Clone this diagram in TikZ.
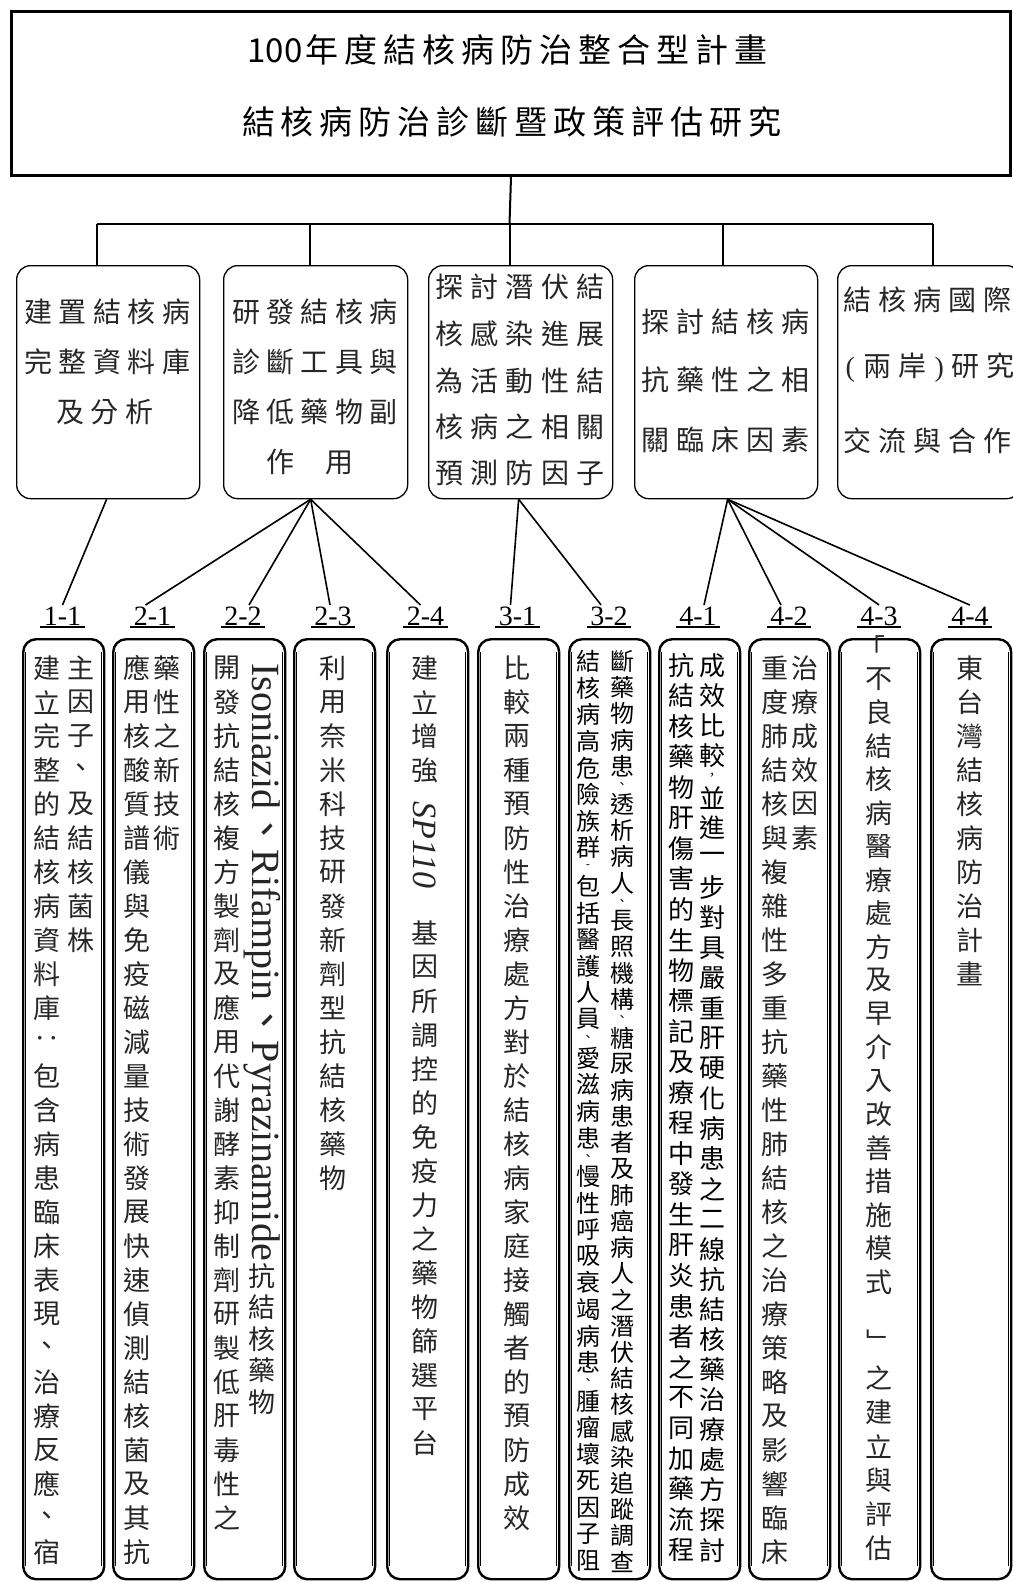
\documentclass[tikz,border=0pt]{standalone}
\usepackage{fontspec}
\usepackage{graphicx}
\setmainfont{Liberation Serif}
\newfontfamily\cjk{Noto Sans CJK TC}
\ExplSyntaxOn
\dim_new:N \l__rk_p_dim
\dim_new:N \l__rk_q_dim
\bool_new:N \l__rk_small_bool
\cs_new_protected:Npn \__rk_cell:nn #1#2
  { \hbox_to_wd:nn {1.1em} { \hss \vbox_to_ht:nn {#1} { \vss \hbox:n {#2} \vss } \hss } }
\NewDocumentCommand \vcol { O{34pt} o m }
  {
    \dim_set:Nn \l__rk_p_dim {#1}
    \IfNoValueTF {#2}
      { \bool_set_false:N \l__rk_small_bool \dim_set:Nn \l__rk_q_dim {#1} }
      { \bool_set_true:N \l__rk_small_bool \dim_set:Nn \l__rk_q_dim {#2} }
    \vbox:n
      {
        \offinterlineskip
        \tl_map_inline:nn {#3}
          {
            \bool_lazy_any:nTF
              { {\str_if_eq_p:nn {##1}{、}} {\str_if_eq_p:nn {##1}{，}} {\str_if_eq_p:nn {##1}{-}} }
              { \__rk_cell:nn {\l__rk_q_dim}
                  { \bool_if:NT \l__rk_small_bool { \fontsize{\dim_use:N \l__rk_q_dim}{\dim_use:N \l__rk_q_dim}\selectfont } ##1 } }
              { \__rk_cell:nn {\l__rk_p_dim} {##1} }
          }
      }
  }
\NewDocumentCommand \hsp { m m }
  { \tl_map_inline:nn {#2} { \hbox_to_wd:nn {#1} { \hss ##1 \hss } } }
\ExplSyntaxOff
\begin{document}
\begin{tikzpicture}[x=1pt,y=-1pt,
  topbox/.style={draw, line width=3pt, minimum width=999pt, minimum height=164pt, anchor=north west, inner sep=0pt},
  midbox/.style={draw, line width=1.3pt, rounded corners=14pt, minimum width=183pt, minimum height=233pt, anchor=north west, inner sep=0pt},
  colbox/.style={draw, line width=2.4pt, rounded corners=13pt, minimum width=81pt, minimum height=940pt, anchor=north west, inner sep=0pt},
  innerl/.style={line width=0.7pt},
  bus/.style={line width=2pt},
  conn/.style={line width=1.6pt},
  uline/.style={line width=1.6pt},
  title/.style={font=\cjk\fontsize{33}{33}\selectfont, inner sep=0pt},
  midtxt/.style={font=\cjk\fontsize{28}{28}\selectfont, text=black!85, inner sep=0pt},
  vt/.style={font=\cjk\fontsize{27}{27}\selectfont, text=black!85, inner sep=0pt, anchor=north},
  vts/.style={font=\cjk\fontsize{24}{24}\selectfont, text=black, inner sep=0pt, anchor=north},
  vtm/.style={font=\cjk\fontsize{26}{26}\selectfont, text=black, inner sep=0pt, anchor=north},
  lab/.style={font=\fontsize{28}{28}\selectfont, inner sep=1.5pt},
  lat/.style={font=\fontsize{40}{40}\selectfont, text=black!85, inner sep=0pt, rotate=-90},
]
\useasboundingbox (0,0) rectangle (1012,1582);
% top box
\node[topbox] (top) at (10,10) {};
\node[title] (t1) at (509,50) {100\hsp{39pt}{年度結核病防治整合型計畫}};
\node[title] (t2) at (512,122) {\hsp{39pt}{結核病防治診斷暨政策評估研究}};
% bus
\coordinate (bc) at (509.5,224);
\coordinate (b1) at (97,224);
\coordinate (b2) at (310,224);
\coordinate (b3) at (509.5,224);
\coordinate (b4) at (723,224);
\coordinate (b5) at (933,224);
\draw[bus] (top.south) -- (bc);
\draw[bus] (b1) -- (b5);
% mid boxes
\node[midbox] (m1) at (16,265) {};
\node[midbox, minimum width=184pt] (m2) at (223,265) {};
\node[midbox, minimum width=184pt] (m3) at (428,265) {};
\node[midbox] (m4) at (634,265) {};
\node[midbox] (m5) at (837,265) {};
\foreach \b/\m in {b1/m1,b2/m2,b3/m3,b4/m4,b5/m5}{\draw[bus] (\b) -- (\b |- \m.north);}
% mid texts
\node[midtxt] (m1a) at (107.5,312) {\hsp{34.5pt}{建置結核病}};
\node[midtxt] (m1b) at (107.5,362) {\hsp{34.5pt}{完整資料庫}};
\node[midtxt] (m1c) at (105,412) {\hsp{34.5pt}{及分析}};
\node[midtxt] (m2a) at (315,312) {\hsp{34.5pt}{研發結核病}};
\node[midtxt] (m2b) at (315,362) {\hsp{34.5pt}{診斷工具與}};
\node[midtxt] (m2c) at (315,412) {\hsp{34.5pt}{降低藥物副}};
\node[midtxt] (m2d) at (310,462) {\hsp{60pt}{作用}};
\node[midtxt] (m3a) at (520,287) {\hsp{35.5pt}{探討潛伏結}};
\node[midtxt] (m3b) at (520,334) {\hsp{35.5pt}{核感染進展}};
\node[midtxt] (m3c) at (520,381) {\hsp{35.5pt}{為活動性結}};
\node[midtxt] (m3d) at (520,427) {\hsp{35.5pt}{核病之相關}};
\node[midtxt] (m3e) at (520,473) {\hsp{35.5pt}{預測防因子}};
\node[midtxt] (m4a) at (725.5,322) {\hsp{35pt}{探討結核病}};
\node[midtxt] (m4b) at (725.5,380) {\hsp{35pt}{抗藥性之相}};
\node[midtxt] (m4c) at (725.5,440) {\hsp{35pt}{關臨床因素}};
\node[midtxt, anchor=west] (m5a) at (840,300) {\hsp{35pt}{結核病國際}};
\node[midtxt, anchor=west] (m5b) at (840,368) {\hbox to 20pt{\hss\rmfamily(\hss}\hsp{35pt}{兩岸}\hbox to 18pt{\hss\rmfamily)\hss}\hsp{35pt}{研究}};
\node[midtxt, anchor=west] (m5c) at (840,441) {\hsp{35pt}{交流與合作}};
% columns
\node[colbox] (c11) at (22,638) {};
\node[colbox] (c21) at (112,638) {};
\node[colbox] (c22) at (203,638) {};
\node[colbox] (c23) at (293,638) {};
\node[colbox] (c24) at (386,638) {};
\node[colbox] (c31) at (477,638) {};
\node[colbox] (c32) at (568,638) {};
\node[colbox] (c41) at (658,638) {};
\node[colbox] (c42) at (748,638) {};
\node[colbox] (c43) at (838,638) {};
\node[colbox, minimum width=80pt] (c44) at (930,638) {};
\foreach \n in {c11,c21,c22,c23,c24,c31,c32,c41,c42,c43,c44}{
  \draw[innerl] ([shift={(3.6pt,-14pt)}]\n.north west) -- ([shift={(3.6pt,14pt)}]\n.south west);
  \draw[innerl] ([shift={(-3.6pt,-14pt)}]\n.north east) -- ([shift={(-3.6pt,14pt)}]\n.south east);
}
% labels
\foreach \n/\x/\t in {l11/62.5/1-1,l21/152.5/2-1,l22/243/2-2,l23/333/2-3,l24/425.5/2-4,l31/517.5/3-1,l32/609/3-2,l41/698/4-1,l42/789/4-2,l43/879/4-3,l44/970/4-4}{
  \node[lab] (\n) at (\x,616) {\t};
  \draw[uline] ([xshift=-2pt]\n.south west) -- ([xshift=2pt]\n.south east);
}
% connectors
\draw[conn] ([xshift=-1.5pt]m1.south) -- (l11.north);
\draw[conn] ([xshift=-5pt]m2.south) -- ([xshift=-7pt]l21.north);
\draw[conn] ([xshift=-5pt]m2.south) -- ([xshift=6pt]l22.north);
\draw[conn] ([xshift=-5pt]m2.south) -- ([xshift=-3pt]l23.north);
\draw[conn] ([xshift=-5pt]m2.south) -- ([xshift=-5pt]l24.north);
\draw[conn] ([xshift=-2pt]m3.south) -- ([xshift=-7pt]l31.north);
\draw[conn] ([xshift=-2pt]m3.south) -- ([xshift=-8pt]l32.north);
\draw[conn] ([xshift=1.5pt]m4.south) -- ([xshift=6pt]l41.north);
\draw[conn] ([xshift=1.5pt]m4.south) -- ([xshift=-8pt]l42.north);
\draw[conn] ([xshift=1.5pt]m4.south) -- (l43.north);
\draw[conn] ([xshift=1.5pt]m4.south) -- (l44.north);
% column texts
\node[vt] (x11a) at (47,651) {\vcol{建立完整的結核病資料庫‥包含病患臨床表現、治療反應、宿}};
\node[vt] (x11b) at (81,651) {\vcol{主因子、及結核菌株}};
\node[vt] (x21a) at (137,651) {\vcol{應用核酸質譜儀與免疫磁減量技術發展快速偵測結核菌及其抗}};
\node[vt] (x21b) at (167,651) {\vcol{藥性之新技術}};
\node[vt] (x22a) at (227,651) {\vcol{開發抗結核複方製劑及應用代謝酵素抑制劑研製低肝毒性之}};
\node[lat] (x22b) at (262,962) {Isoniazid{\cjk 、}Rifampin{\cjk 、}Pyrazinamide};
\node[vt] (x22c) at (262,1260) {\vcol[31.5pt]{抗結核藥物}};
\node[vt] (x23) at (333,651) {\vcol{利用奈米科技研發新劑型抗結核藥物}};
\node[vt] (x24a) at (425,651) {\vcol{建立增強}};
\node[lat, font=\itshape\fontsize{34}{34}\selectfont] (x24b) at (425,845) {SP110};
\node[vt] (x24c) at (425,916) {\vcol{基因所調控的免疫力之藥物篩選平台}};
\node[vt] (x31) at (517,651) {\vcol{比較兩種預防性治療處方對於結核病家庭接觸者的預防成效}};
\node[vts] (x32a) at (588,648) {\vcol[26.6pt][12pt]{結核病高危險族群-包括醫護人員、愛滋病患、慢性呼吸衰竭病患、腫瘤壞死因子阻}};
\node[vts] (x32b) at (622,648) {\vcol[26.2pt][12pt]{斷藥物病患、透析病人、長照機構、糖尿病患者及肺癌病人之潛伏結核感染追蹤調查}};
\node[vtm] (x41a) at (681,650) {\vcol[30.5pt]{抗結核藥物肝傷害的生物標記及療程中發生肝炎患者之不同加藥流程}};
\node[vtm] (x41b) at (712,650) {\vcol[30.1pt][12pt]{成效比較，並進一步對具嚴重肝硬化病患之二線抗結核藥治療處方探討}};
\node[vt] (x42a) at (775,651) {\vcol{重度肺結核與複雜性多重抗藥性肺結核之治療策略及影響臨床}};
\node[vt] (x42b) at (805,651) {\vcol{治療成效因素}};
\node[vt, anchor=center] (x43q) at (872,647) {「};
\node[vt] (x43a) at (879,662) {\vcol[33.5pt]{不良結核病醫療處方及早介入改善措施模式}};
\node[vt, anchor=center] (x43r) at (880,1341) {﹂};
\node[vt] (x43b) at (879,1361) {\vcol{之建立與評估}};
\node[vt] (x44) at (970,651) {\vcol{東台灣結核病防治計畫}};
\end{tikzpicture}
\end{document}
